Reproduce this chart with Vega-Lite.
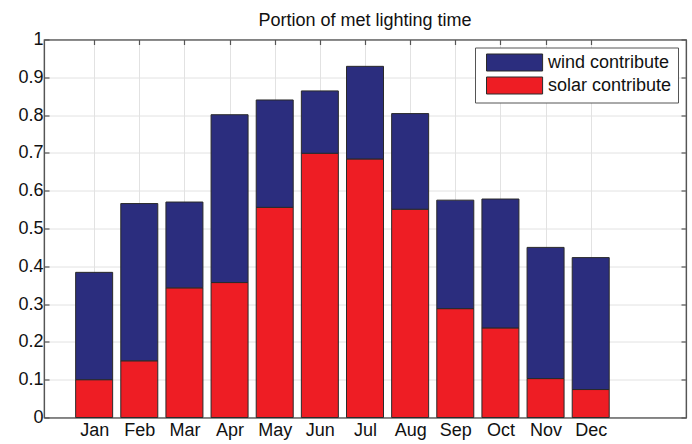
{
  "$schema": "https://vega.github.io/schema/vega-lite/v6.json",
  "width": 642,
  "height": 378,
  "autosize": {"type": "none"},
  "padding": {"left": 44, "top": 39.5, "right": 6, "bottom": 26.5},
  "background": "white",
  "title": {
    "text": "Portion of met lighting time",
    "font": "Liberation Sans",
    "fontSize": 18,
    "fontWeight": "normal",
    "color": "#111",
    "baseline": "alphabetic",
    "offset": -13
  },
  "config": {
    "view": {"stroke": "#555", "strokeWidth": 1.2},
    "axis": {
      "labelFont": "Liberation Sans",
      "labelFontSize": 18,
      "labelColor": "#111",
      "domainColor": "#555",
      "domainWidth": 1.2,
      "tickColor": "#555",
      "tickSize": -5,
      "tickWidth": 1.2,
      "gridColor": "#e2e2e2",
      "gridWidth": 1,
      "title": null
    }
  },
  "data": {
    "values": [
      {"m": 1, "series": "solar contribute", "v": 0.100},
      {"m": 1, "series": "wind contribute", "v": 0.284},
      {"m": 2, "series": "solar contribute", "v": 0.150},
      {"m": 2, "series": "wind contribute", "v": 0.416},
      {"m": 3, "series": "solar contribute", "v": 0.343},
      {"m": 3, "series": "wind contribute", "v": 0.227},
      {"m": 4, "series": "solar contribute", "v": 0.357},
      {"m": 4, "series": "wind contribute", "v": 0.444},
      {"m": 5, "series": "solar contribute", "v": 0.556},
      {"m": 5, "series": "wind contribute", "v": 0.284},
      {"m": 6, "series": "solar contribute", "v": 0.699},
      {"m": 6, "series": "wind contribute", "v": 0.165},
      {"m": 7, "series": "solar contribute", "v": 0.684},
      {"m": 7, "series": "wind contribute", "v": 0.245},
      {"m": 8, "series": "solar contribute", "v": 0.551},
      {"m": 8, "series": "wind contribute", "v": 0.253},
      {"m": 9, "series": "solar contribute", "v": 0.288},
      {"m": 9, "series": "wind contribute", "v": 0.287},
      {"m": 10, "series": "solar contribute", "v": 0.237},
      {"m": 10, "series": "wind contribute", "v": 0.341},
      {"m": 11, "series": "solar contribute", "v": 0.103},
      {"m": 11, "series": "wind contribute", "v": 0.347},
      {"m": 12, "series": "solar contribute", "v": 0.074},
      {"m": 12, "series": "wind contribute", "v": 0.349}
    ]
  },
  "layer": [
    {
      "mark": {"type": "bar", "size": 37, "stroke": "#2a2a2a", "strokeWidth": 1, "opacity": 1},
      "encoding": {
        "x": {
          "field": "m",
          "type": "quantitative",
          "scale": {"domain": [0, 14], "nice": false, "zero": false},
          "axis": {
            "orient": "bottom",
            "values": [1, 2, 3, 4, 5, 6, 7, 8, 9, 10, 11, 12],
            "labelExpr": "['Jan','Feb','Mar','Apr','May','Jun','Jul','Aug','Sep','Oct','Nov','Dec'][datum.value - 1]",
            "labelBaseline": "alphabetic",
            "labelPadding": 23,
            "labelFlush": false,
            "labelOverlap": false
          }
        },
        "y": {
          "field": "v",
          "type": "quantitative",
          "stack": "zero",
          "scale": {"domain": [0, 1], "nice": false},
          "axis": {
            "orient": "left",
            "values": [0, 0.1, 0.2, 0.3, 0.4, 0.5, 0.6, 0.7, 0.8, 0.9, 1],
            "format": ".1~f",
            "labelPadding": 6,
            "labelFlush": false,
            "labelOverlap": false
          }
        },
        "color": {
          "field": "series",
          "type": "nominal",
          "scale": {"domain": ["wind contribute", "solar contribute"], "range": ["#2b2d7e", "#ee1d24"]},
          "legend": {
            "orient": "top-right",
            "offset": 8,
            "title": null,
            "strokeColor": "#555",
            "fillColor": "white",
            "padding": 6,
            "symbolType": "M-1,-1H5.6V1H-1Z",
            "symbolSize": 289,
            "symbolStrokeColor": "#2a2a2a",
            "symbolStrokeWidth": 1,
            "symbolOpacity": 1,
            "symbolOffset": 5,
            "labelOffset": 44,
            "labelFont": "Liberation Sans",
            "labelFontSize": 18,
            "labelColor": "#111",
            "rowPadding": 1
          }
        },
        "order": {"field": "series", "sort": "ascending"}
      }
    },
    {
      "mark": {"type": "point", "opacity": 0},
      "encoding": {
        "x": {
          "field": "m",
          "type": "quantitative",
          "axis": {
            "orient": "top",
            "values": [1, 2, 3, 4, 5, 6, 7, 8, 9, 10, 11, 12],
            "labels": false,
            "grid": false
          }
        },
        "y": {
          "field": "v",
          "type": "quantitative",
          "axis": {
            "orient": "right",
            "values": [0, 0.1, 0.2, 0.3, 0.4, 0.5, 0.6, 0.7, 0.8, 0.9, 1],
            "labels": false,
            "grid": false
          }
        }
      }
    }
  ],
  "resolve": {"axis": {"x": "independent", "y": "independent"}}
}
